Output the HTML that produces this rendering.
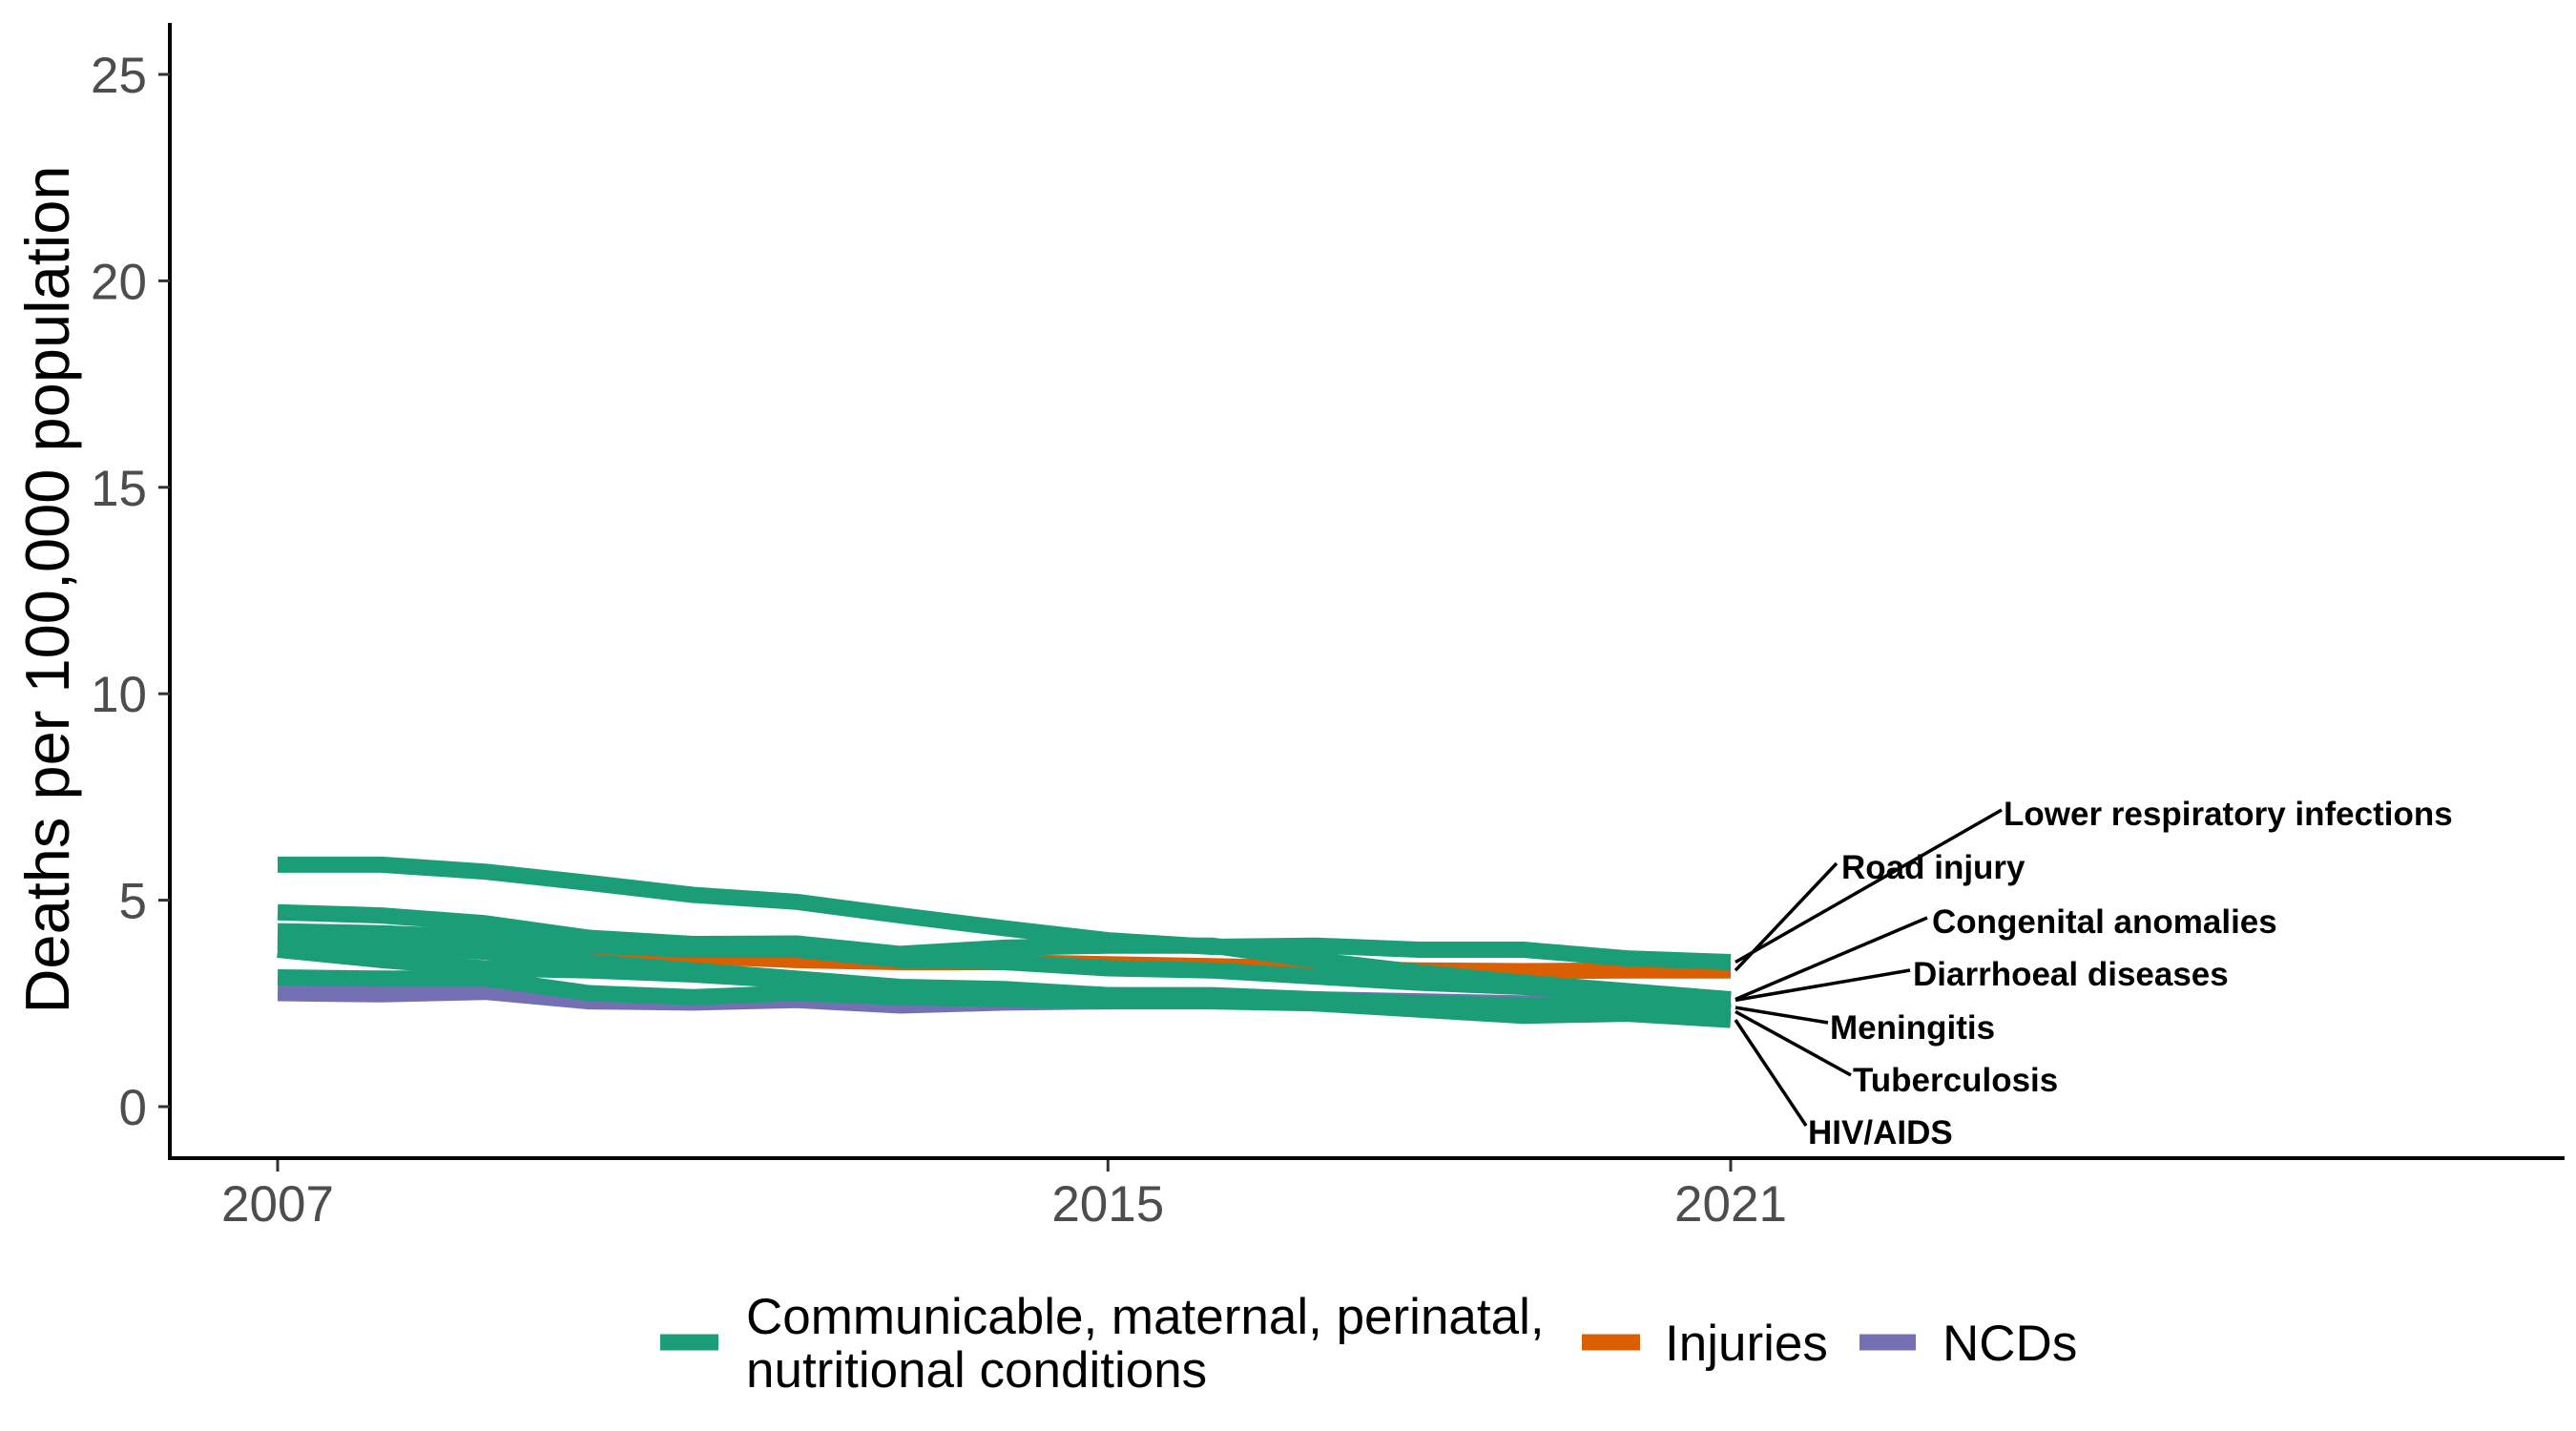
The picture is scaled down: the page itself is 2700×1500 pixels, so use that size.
<!DOCTYPE html>
<html><head><meta charset="utf-8"><style>
html,body{margin:0;padding:0;background:#fff;}
svg{display:block;font-family:"Liberation Sans",sans-serif;}
</style></head><body>
<svg id="chart" width="2700" height="1500" viewBox="0 0 2700 1500">
<g id="plot"></g>
<g id="axes"></g>
<g id="labels"></g>
<text x="0" y="0" transform="translate(72,618) rotate(-90)" text-anchor="middle" font-size="65" fill="#000">Deaths per 100,000 population</text>
<g>
  <g>
    <line x1="692" y1="1407" x2="753" y2="1407" stroke="#1b9e77" stroke-width="17"/>
    <text x="782" y="1398" font-size="53" fill="#000">Communicable, maternal, perinatal,</text>
    <text x="782" y="1454" font-size="53" fill="#000">nutritional conditions</text>
  </g>
  <g>
    <line x1="1658" y1="1407" x2="1719" y2="1407" stroke="#d95f02" stroke-width="17"/>
    <text x="1745" y="1426" font-size="53" fill="#000">Injuries</text>
  </g>
  <g>
    <line x1="1949" y1="1407" x2="2008" y2="1407" stroke="#7570b3" stroke-width="17"/>
    <text x="2036" y="1426" font-size="53" fill="#000">NCDs</text>
  </g>
</g>
</svg>
<script>
const years = [2007,2008,2009,2010,2011,2012,2013,2014,2015,2016,2017,2018,2019,2020,2021];
const seriesNames = ["NCDs-placeholder","Road injury","Lower respiratory infections","Congenital anomalies","Diarrhoeal diseases","Meningitis","Tuberculosis","HIV/AIDS"];
const ncdValues = [2.75,2.72,2.78,2.55,2.52,2.58,2.45,2.52,2.55,2.6,2.6,2.55,2.5,2.52,2.5];
const roadInjury = [3.85,3.9,3.86,3.75,3.65,3.55,3.5,3.5,3.45,3.4,3.35,3.3,3.28,3.3,3.3];
const lowerResp = [5.86,5.86,5.69,5.42,5.13,4.96,4.63,4.32,4.03,3.87,3.9,3.8,3.8,3.59,3.5];
const congenital = [4.71,4.63,4.44,4.09,3.94,3.95,3.7,3.85,3.9,3.9,3.55,3.25,3.0,2.8,2.6];
const diarrhoeal = [4.25,4.2,4.1,3.9,3.8,3.8,3.55,3.5,3.35,3.3,3.15,3.0,2.9,2.75,2.58];
const meningitis = [3.8,3.55,3.35,3.3,3.2,3.05,2.85,2.8,2.7,2.7,2.6,2.5,2.45,2.45,2.4];
const tuberculosis = [3.13,3.1,3.1,2.75,2.65,2.75,2.65,2.6,2.55,2.55,2.5,2.45,2.35,2.5,2.3];
const hivAids = [4.0,3.9,3.75,3.5,3.3,3.1,2.9,2.85,2.7,2.65,2.5,2.35,2.2,2.25,2.1];
const yTicks = [0,5,10,15,20,25];
const xTicks = [2007,2015,2021];
const NS="http://www.w3.org/2000/svg";
function xs(y){return 291+(y-2007)*(1814-291)/14;}
function ys(v){return 1160-v*(1160-78)/25;}
function el(tag,attrs,parent){const e=document.createElementNS(NS,tag);for(const k in attrs)e.setAttribute(k,attrs[k]);parent.appendChild(e);return e;}
const plot=document.getElementById('plot');
const series=[
 {vals:ncdValues,color:"#7570b3",name:"line-ncds"},
 {vals:roadInjury,color:"#d95f02",name:"line-road-injury"},
 {vals:tuberculosis,color:"#1b9e77",name:"line-tuberculosis"},
 {vals:hivAids,color:"#1b9e77",name:"line-hiv-aids"},
 {vals:meningitis,color:"#1b9e77",name:"line-meningitis"},
 {vals:diarrhoeal,color:"#1b9e77",name:"line-diarrhoeal-diseases"},
 {vals:congenital,color:"#1b9e77",name:"line-congenital-anomalies"},
 {vals:lowerResp,color:"#1b9e77",name:"line-lower-respiratory-infections"}
];
series.forEach(s=>{
  const d=s.vals.map((v,i)=>(i?'L':'M')+xs(years[i]).toFixed(1)+','+ys(v).toFixed(1)).join(' ');
  const p=el('path',{d:d,fill:'none',stroke:s.color,'stroke-width':17,'stroke-linejoin':'round','stroke-linecap':'butt'},plot);
  
  
});
const axes=document.getElementById('axes');
const ya=el('line',{x1:178,y1:24,x2:178,y2:1215,stroke:'#000','stroke-width':4},axes);


const xa=el('line',{x1:176,y1:1214,x2:2688,y2:1214,stroke:'#000','stroke-width':4},axes);


yTicks.forEach(t=>{
  el('line',{x1:166,y1:ys(t),x2:178,y2:ys(t),stroke:'#333','stroke-width':3},axes);
  const tx=el('text',{x:154,y:ys(t)+19,'text-anchor':'end','font-size':53,fill:'#4d4d4d'},axes);
  tx.textContent=t;
  
  
});
xTicks.forEach(t=>{
  el('line',{x1:xs(t),y1:1216,x2:xs(t),y2:1228,stroke:'#333','stroke-width':3},axes);
  const tx=el('text',{x:xs(t),y:1280,'text-anchor':'middle','font-size':53,fill:'#4d4d4d'},axes);
  tx.textContent=t;
  
  
});
const labelNames=["Lower respiratory infections","Road injury","Congenital anomalies","Diarrhoeal diseases","Meningitis","Tuberculosis","HIV/AIDS"];
const labelVals=[lowerResp[14],roadInjury[14],congenital[14],diarrhoeal[14],meningitis[14],tuberculosis[14],hivAids[14]];
const labelEnds=[[2098,849],[1925,905],[2020,962],[2002,1017],[1916,1072],[1940,1127],[1893,1180]];
const labelText=[[2100,865],[1930,921],[2025,978],[2005,1033],[1918,1089],[1942,1144],[1895,1199]];
const lg=document.getElementById('labels');
labelNames.forEach((n,i)=>{
  const sx=1819, sy=ys(labelVals[i]);
  const ln=el('line',{x1:sx,y1:sy,x2:labelEnds[i][0],y2:labelEnds[i][1],stroke:'#000','stroke-width':3.5},lg);
  
  
  const tx=el('text',{x:labelText[i][0],y:labelText[i][1],'font-size':35,'font-weight':'bold',fill:'#000'},lg);
  tx.textContent=n;
  
  
});
</script>
</body></html>
